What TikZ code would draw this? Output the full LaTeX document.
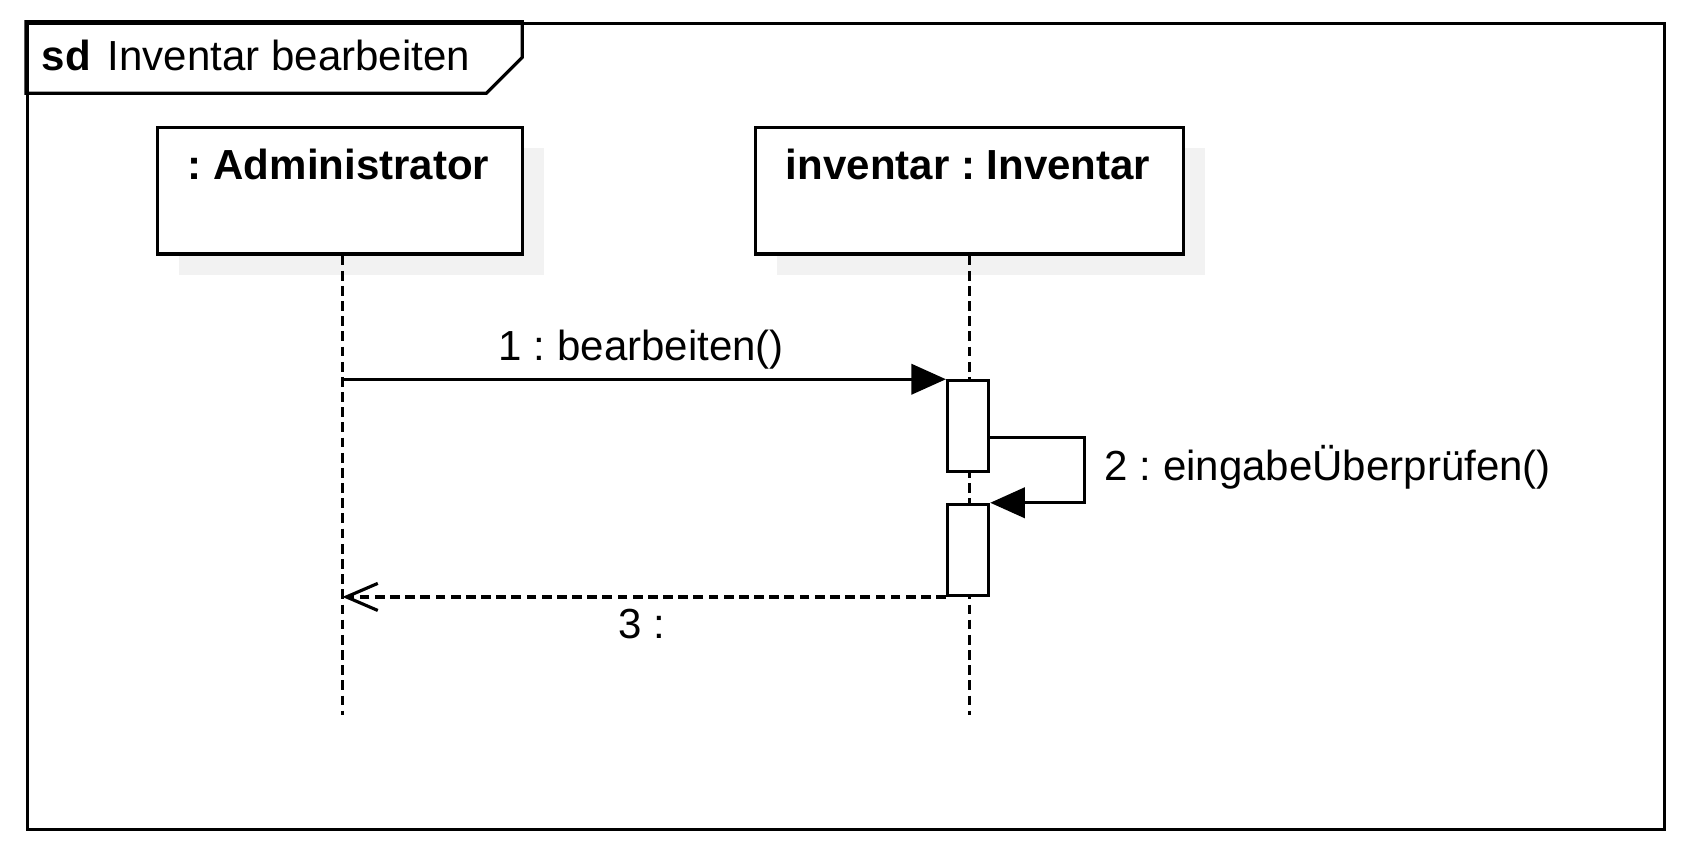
\documentclass[tikz,border=0pt]{standalone}
\usepackage{fontspec}
\setmainfont{Liberation Sans}
\usetikzlibrary{arrows.meta}
\definecolor{shadowgray}{HTML}{F2F2F2}
\begin{document}
\frenchspacing
\begin{tikzpicture}[x=1pt,y=-1pt,line width=2.9pt,
  lbl/.style={font=\fontsize{38.8}{46}\selectfont,inner sep=0pt,anchor=base},
  headbox/.style={draw,fill=white,inner sep=0pt,anchor=north west,minimum height=117pt},
  actbox/.style={draw,fill=white,inner sep=0pt,anchor=north west,minimum width=38pt,minimum height=84pt},
  lifeline/.style={dash pattern=on 9pt off 5pt},
  msg/.style={-{Triangle[length=32pt,width=28pt]}},
  ret/.style={dash pattern=on 9pt off 5pt,-{Straight Barb[length=29pt,width=25pt]}}]
\useasboundingbox (0,0) rectangle (1568,792);
\fill[white] (0,0) rectangle (1568,792);
% frame
\node[draw,inner sep=0pt,anchor=north west,minimum width=1511pt,minimum height=744pt] (frame) at (24,20) {};
\draw (frame.north west) -- (482,20) -- (482,53) -- (449,86) -- (24,86) -- cycle;
\node[lbl,anchor=base west] (sd) at (37,65) {\bfseries sd};
\node[lbl,anchor=base west] (title) at (98,65) {Inventar bearbeiten};
% shadows
\fill[shadowgray] (165,137) rectangle (502,254);
\fill[shadowgray] (717,137) rectangle (1112,254);
% heads
\node[headbox,minimum width=337pt] (admin) at (144,116) {};
\node[lbl] (admint) at (312.5,166) {\bfseries : Administrator};
\node[headbox,minimum width=395pt] (inv) at (696,116) {};
\node[lbl] (invt) at (893.5,166) {\bfseries inventar : Inventar};
% lifelines
\coordinate (adminend) at (316,660);
\coordinate (invend) at (895,660);
\draw[lifeline] (admin.south -| adminend) -- (adminend);
\draw[lifeline] (inv.south -| invend) -- (invend);
% activations
\node[actbox] (act1) at (873,350) {};
\node[actbox] (act2) at (873,464) {};
% messages
\coordinate (m1) at (316,350);
\draw[msg] (m1) -- (act1.north west);
\node[lbl] (m1t) at (592,333) {1 : bearbeiten()};
\coordinate (s1) at (1001,404);
\coordinate (s2) at (1001,464);
\draw[msg] (act1.east |- s1) -- (s1) -- (s2) -- (act2.north east);
\node[lbl,anchor=base west] (m2t) at (1018,443) {2 : eingabeÜberprüfen()};
\draw[ret] (act2.south west) -- (act2.south west -| adminend);
\node[lbl] (m3t) at (592,589) {3 :};
\end{tikzpicture}
\end{document}
